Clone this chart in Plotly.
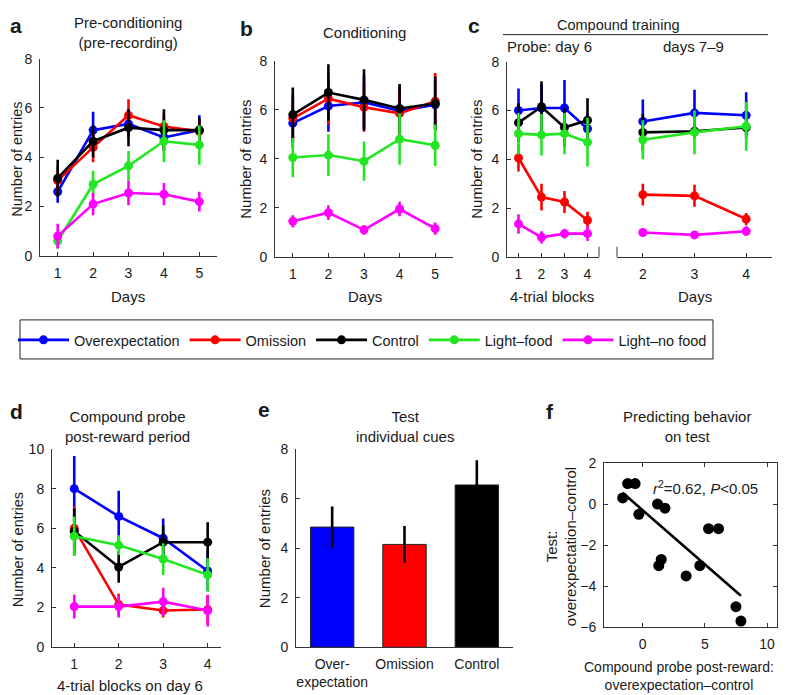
import plotly.graph_objects as go
import numpy as np

# ---------------- data ----------------
groups = ["Overexpectation", "Omission", "Control", "Light–food", "Light–no food"]
colors = ["#0000FF", "#FF0000", "#000000", "#22E622", "#FF00FF"]

# panel a: pre-conditioning, days 1-5
a_days = [1, 2, 3, 4, 5]
a_over = [2.6, 5.1, 5.35, 4.8, 5.1]
a_over_err = [0.45, 0.75, 0.55, 0.5, 0.6]
a_omit = [3.05, 4.4, 5.7, 5.25, 5.05]
a_omit_err = [0.6, 0.6, 0.65, 0.5, 0.45]
a_ctrl = [3.15, 4.65, 5.2, 5.1, 5.1]
a_ctrl_err = [0.75, 0.65, 0.75, 0.85, 0.5]
a_light = [0.6, 2.9, 3.65, 4.65, 4.5]
a_light_err = [0.3, 0.55, 0.6, 0.85, 0.8]
a_nofood = [0.8, 2.1, 2.55, 2.5, 2.2]
a_nofood_err = [0.5, 0.45, 0.5, 0.45, 0.4]

# panel b: conditioning, days 1-5
b_days = [1, 2, 3, 4, 5]
b_over = [5.45, 6.15, 6.3, 5.95, 6.2]
b_over_err = [1.0, 1.05, 1.1, 1.0, 1.0]
b_omit = [5.65, 6.45, 6.1, 5.85, 6.35]
b_omit_err = [1.0, 1.05, 1.0, 0.95, 1.15]
b_ctrl = [5.8, 6.7, 6.4, 6.05, 6.25]
b_ctrl_err = [1.1, 1.15, 1.25, 1.0, 1.1]
b_light = [4.05, 4.15, 3.9, 4.8, 4.55]
b_light_err = [0.8, 0.85, 0.8, 1.05, 0.85]
b_nofood = [1.45, 1.8, 1.1, 1.95, 1.15]
b_nofood_err = [0.25, 0.3, 0.2, 0.3, 0.25]

# panel c (left): probe day 6, 4-trial blocks
c1_blocks = [1, 2, 3, 4]
c1_over = [6.0, 6.1, 6.1, 5.25]
c1_over_err = [0.9, 1.0, 1.15, 0.6]
c1_omit = [4.05, 2.45, 2.25, 1.5]
c1_omit_err = [0.55, 0.55, 0.45, 0.35]
c1_ctrl = [5.5, 6.15, 5.3, 5.6]
c1_ctrl_err = [0.8, 1.05, 0.8, 0.9]
c1_light = [5.05, 5.0, 5.05, 4.7]
c1_light_err = [0.85, 0.85, 0.85, 1.0]
c1_nofood = [1.35, 0.8, 0.95, 0.95]
c1_nofood_err = [0.4, 0.25, 0.2, 0.3]

# panel c (right): days 7-9
c2_days = [2, 3, 4]
c2_over = [5.55, 5.9, 5.8]
c2_over_err = [0.9, 0.95, 0.95]
c2_omit = [2.55, 2.5, 1.55]
c2_omit_err = [0.45, 0.45, 0.25]
c2_ctrl = [5.1, 5.15, 5.3]
c2_ctrl_err = [0.75, 0.3, 0.3]
c2_light = [4.8, 5.1, 5.35]
c2_light_err = [0.8, 0.9, 1.0]
c2_nofood = [1.0, 0.9, 1.05]
c2_nofood_err = [0.15, 0.12, 0.2]

# panel d: compound probe post-reward period
d_blocks = [1, 2, 3, 4]
d_over = [8.0, 6.6, 5.5, 3.85]
d_over_err = [1.65, 1.3, 1.0, 1.0]
d_omit = [6.0, 2.15, 1.85, 1.9]
d_omit_err = [1.1, 0.55, 0.35, 0.7]
d_ctrl = [5.85, 4.05, 5.3, 5.3]
d_ctrl_err = [1.15, 0.8, 0.85, 1.0]
d_light = [5.6, 5.15, 4.45, 3.65]
d_light_err = [1.0, 0.5, 0.8, 0.85]
d_nofood = [2.05, 2.05, 2.3, 1.85]
d_nofood_err = [0.6, 0.55, 0.7, 0.8]

# panel e: test, individual cues
e_cats = ["Over-<br>expectation", "Omission", "Control"]
e_vals = [4.85, 4.15, 6.55]
e_err = [0.83, 0.74, 1.0]
e_colors = ["#0000FF", "#FF0000", "#000000"]

# panel f: predicting behaviour on test
f_x = [-1.6, -1.2, -0.6, -0.3, 1.2, 1.8, 1.3, 1.5, 3.5, 4.6, 5.3, 6.1, 7.5, 7.9]
f_y = [0.3, 1.0, 1.0, -0.5, 0.0, -0.2, -3.0, -2.7, -3.5, -3.0, -1.2, -1.2, -5.0, -5.7]

# ---------------- layout helpers ----------------
W, H = 788, 695
FONT = "Liberation Sans, Arial, Helvetica, sans-serif"
TXT = "#1a1a1a"
AXC = "#333333"

# the page is shown with an offset (body margin) and a slight vertical squeeze;
# these helpers map a target position in the final picture to paper coordinates
OX, OY, SY = 8.0, 16.4, 0.976


def PX(p):
    return (p - OX) / W


def PY(p):
    return 1 - ((p - OY) / SY) / H


fig = go.Figure()


def add_lines(x, series, errs, xa, ya, legend=False):
    for name, col, ys, es in zip(groups, colors, series, errs):
        fig.add_trace(go.Scatter(
            x=x, y=ys, mode="lines+markers", name=name,
            line=dict(color=col, width=2.6),
            marker=dict(color=col, size=9),
            error_y=dict(type="data", array=es, visible=True, color=col,
                         thickness=2.6, width=0),
            xaxis=xa, yaxis=ya, showlegend=legend, legendgroup=name,
            cliponaxis=False,
        ))


add_lines(a_days, [a_over, a_omit, a_ctrl, a_light, a_nofood],
          [a_over_err, a_omit_err, a_ctrl_err, a_light_err, a_nofood_err], "x", "y", legend=True)
add_lines(b_days, [b_over, b_omit, b_ctrl, b_light, b_nofood],
          [b_over_err, b_omit_err, b_ctrl_err, b_light_err, b_nofood_err], "x2", "y2")
add_lines(c1_blocks, [c1_over, c1_omit, c1_ctrl, c1_light, c1_nofood],
          [c1_over_err, c1_omit_err, c1_ctrl_err, c1_light_err, c1_nofood_err], "x3", "y3")
add_lines(c2_days, [c2_over, c2_omit, c2_ctrl, c2_light, c2_nofood],
          [c2_over_err, c2_omit_err, c2_ctrl_err, c2_light_err, c2_nofood_err], "x4", "y4")
add_lines(d_blocks, [d_over, d_omit, d_ctrl, d_light, d_nofood],
          [d_over_err, d_omit_err, d_ctrl_err, d_light_err, d_nofood_err], "x5", "y5")

fig.add_trace(go.Bar(
    x=e_cats, y=e_vals, width=0.6,
    marker=dict(color=e_colors, line=dict(color="#222", width=1)),
    error_y=dict(type="data", array=e_err, visible=True, color="#000",
                 thickness=2.6, width=0),
    xaxis="x6", yaxis="y6", showlegend=False,
))

fig.add_trace(go.Scatter(
    x=f_x, y=f_y, mode="markers", marker=dict(color="#000", size=11),
    xaxis="x7", yaxis="y7", showlegend=False,
))
slope, intercept = np.polyfit(f_x, f_y, 1)
fit_x = [min(f_x), max(f_x)]
fig.add_trace(go.Scatter(
    x=fit_x, y=[slope * v + intercept for v in fit_x], mode="lines",
    line=dict(color="#000", width=2.6), xaxis="x7", yaxis="y7", showlegend=False,
))


def axis(domain, rng, anchor, **kw):
    d = dict(domain=domain, range=rng, anchor=anchor, showline=True, linecolor=AXC,
             linewidth=1, ticks="inside", ticklen=4, tickcolor=AXC, showgrid=False,
             zeroline=False, tickfont=dict(size=14, color=TXT, family=FONT),
             ticklabelstandoff=4)
    d.update(kw)
    return d


fig.update_layout(
    width=W, height=H, margin=dict(l=0, r=0, t=0, b=0),
    paper_bgcolor="white", plot_bgcolor="white",
    font=dict(family=FONT, size=14, color=TXT),
    xaxis=axis([PX(40), PX(217)], [0.5, 5.5], "y", tickvals=a_days),
    yaxis=axis([PY(256), PY(59)], [0, 8], "x", dtick=2),
    xaxis2=axis([PX(275), PX(453)], [0.5, 5.5], "y2", tickvals=b_days),
    yaxis2=axis([PY(257), PY(61)], [0, 8], "x2", dtick=2),
    xaxis3=axis([PX(507), PX(599)], [0.5, 4.5], "y3", tickvals=c1_blocks),
    yaxis3=axis([PY(257), PY(62)], [0, 8], "x3", dtick=2),
    xaxis4=axis([PX(617), PX(772)], [1.5, 4.5], "y4", tickvals=c2_days),
    yaxis4=axis([PY(257), PY(62)], [0, 8], "x4", visible=False),
    xaxis5=axis([PX(52), PX(221)], [0.5, 4.3], "y5", tickvals=d_blocks),
    yaxis5=axis([PY(647), PY(449)], [0, 10], "x5", dtick=2),
    xaxis6=axis([PX(296), PX(513)], [-0.5, 2.5], "y6", ticks=""),
    yaxis6=axis([PY(647), PY(449)], [0, 8], "x6", dtick=2),
    xaxis7=axis([PX(604), PX(777)], [-3.1, 10.8], "y7", tickvals=[0, 5, 10], mirror="ticks"),
    yaxis7=axis([PY(627), PY(463)], [-6, 2], "x7", dtick=2, mirror="ticks"),
    legend=dict(orientation="h", x=PX(13), xanchor="left", y=PY(340), yanchor="middle",
                bgcolor="rgba(0,0,0,0)", borderwidth=0, itemwidth=51,
                font=dict(size=14.5, color=TXT, family=FONT)),
)

# legend frame
fig.add_shape(type="rect", xref="paper", yref="paper", x0=PX(20), x1=PX(713),
              y0=PY(359), y1=PY(320), line=dict(color="#222", width=1))
# compound training bracket line
fig.add_shape(type="line", xref="paper", yref="paper", x0=PX(503), x1=PX(768),
              y0=PY(35), y1=PY(35), line=dict(color="#222", width=1))
# broken-axis end marks on panel c
for xp in (599, 617):
    fig.add_shape(type="line", xref="paper", yref="paper", x0=PX(xp), x1=PX(xp),
                  y0=PY(257), y1=PY(247), line=dict(color=AXC, width=1))


def note(text, x, y, size=15, angle=0, bold=False, xanchor="center", yanchor="middle", top=0.0):
    if bold:
        text = "<b>" + text + "</b>"
    yy = 1.0 + top / H if y is None else PY(y)
    fig.add_annotation(text=text, x=PX(x), y=yy, xref="paper", yref="paper",
                       showarrow=False, textangle=angle, xanchor=xanchor, yanchor=yanchor,
                       font=dict(size=size, color=TXT, family=FONT), align="center")


# panel letters (top row pushed to the top edge of the page)
note("a", 8, None, 21, bold=True, xanchor="left", yanchor="top", top=4)
note("b", 246, None, 21, bold=True, yanchor="top", top=1)
note("c", 474, None, 21, bold=True, yanchor="top", top=4)
note("d", 8, 412, 21, bold=True, xanchor="left")
note("e", 264, 410, 21, bold=True)
note("f", 550, 412, 21, bold=True)

# titles
note("Pre-conditioning<br>(pre-recording)", 128, 33)
note("Conditioning", 364, 33)
note("Compound training", 618, None, size=14.5, yanchor="top", top=1)
note("Probe: day 6", 549, 47)
note("days 7–9", 693, 47)
note("Compound probe<br>post-reward period", 127, 426)
note("Test<br>individual cues", 405, 426)
note("Predicting behavior<br>on test", 687, 426)

# axis titles
note("Days", 128, 297)
note("Days", 365, 297)
note("4-trial blocks", 552, 297)
note("Days", 695, 297)
note("4-trial blocks on day 6", 130, 685)
note("Compound probe post-reward:<br>overexpectation–control", 679, 676, size=14)
note("Number of entries", 17, 160, size=14.5, angle=-90)
note("Number of entries", 246, 160, angle=-90)
note("Number of entries", 477, 160, angle=-90)
note("Number of entries", 18, 550, size=14.5, angle=-90)
note("Number of entries", 264, 548, angle=-90)
note("Test:<br>overexpectation–control", 561, 547, angle=-90)

# stats annotation
note("<i>r</i><sup>2</sup>=0.62, <i>P</i>&lt;0.05", 705, 487)

fig.write_html("out.html")
